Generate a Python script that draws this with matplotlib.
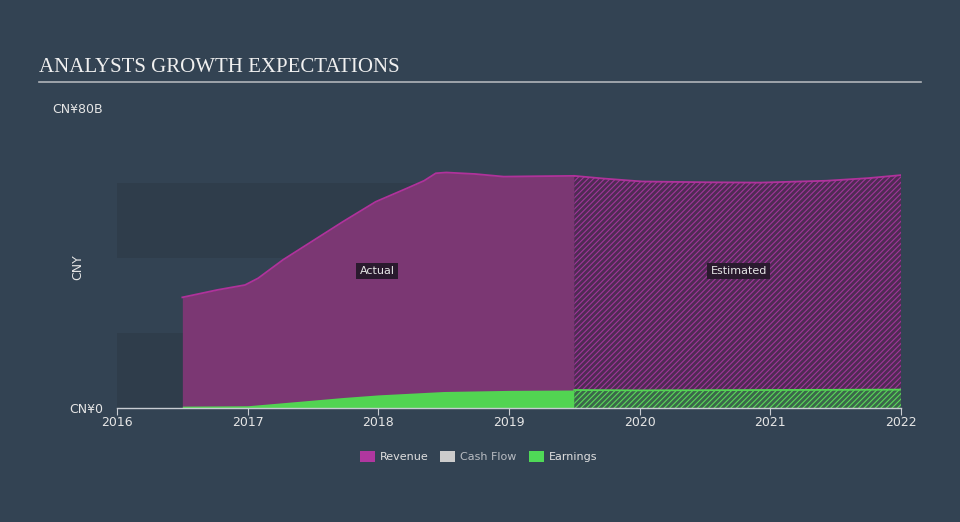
import matplotlib
matplotlib.use("Agg")
import matplotlib.pyplot as plt

# values (CNY billions, fractional years)
rev_actual_t = [2016.5, 2016.77, 2016.98, 2017.08, 2017.27, 2017.5, 2017.73, 2017.98, 2018.22, 2018.35,
                2018.44, 2018.52, 2018.74, 2018.96, 2019.2, 2019.5]
rev_actual_v = [29.5, 31.5, 32.8, 34.6, 39.5, 44.6, 49.7, 55.0, 58.6, 60.6,
                62.6, 62.8, 62.4, 61.7, 61.8, 61.9]
rev_est_t = [2019.5, 2019.72, 2020.02, 2020.5, 2020.92, 2021.43, 2021.75, 2022.0]
rev_est_v = [61.9, 61.2, 60.4, 60.2, 60.1, 60.6, 61.3, 62.1]

earn_actual_t = [2016.5, 2017.0, 2017.4, 2017.73, 2018.0, 2018.5, 2019.0, 2019.5]
earn_actual_v = [0.5, 0.6, 1.8, 2.8, 3.5, 4.4, 4.7, 4.8]
earn_est_t = [2019.5, 2020.0, 2021.0, 2022.0]
earn_est_v = [4.8, 4.7, 4.8, 4.9]

years = [2016, 2017, 2018, 2019, 2020, 2021, 2022]
legend_names = ["Revenue", "Cash Flow", "Earnings"]
legend_colors = ["#b0379f", "#cccccc", "#4fd957"]

bg = "#334353"
plt.rcParams["hatch.linewidth"] = 0.8

fig = plt.figure(figsize=(9.6, 5.22), dpi=100)
fig.patch.set_facecolor(bg)
ax = fig.add_axes([117 / 960, (522 - 408) / 522, 784 / 960, 300 / 522])
ax.set_facecolor(bg)
ax.set_xlim(2016, 2022)
ax.set_ylim(0, 80)

# subtle background bands
for lo, hi in [(0, 20), (40, 60)]:
    ax.fill_between([2016, 2022], lo, hi, color="#2f3d4b", lw=0, zorder=0)

# revenue
ax.fill_between(rev_actual_t, 0, rev_actual_v, color="#7b3773", lw=0, zorder=1)
ax.fill_between(rev_est_t, 0, rev_est_v, facecolor="#4f2b54", edgecolor="#a0369a",
                hatch="//////", lw=0, zorder=1)
ax.plot(rev_actual_t, rev_actual_v, color="#b0329b", lw=1.3, zorder=3)
ax.plot(rev_est_t, rev_est_v, color="#b0329b", lw=1.3, zorder=3)

# earnings
ax.fill_between(earn_actual_t, 0, earn_actual_v, color="#52d452", lw=0, zorder=2)
ax.fill_between(earn_est_t, 0, earn_est_v, facecolor="#3b674a", edgecolor="#5ad85a",
                hatch="//////", lw=0, zorder=2)
ax.plot(earn_est_t, earn_est_v, color="#52d452", lw=1.3, zorder=3)

for s in ["top", "right", "left"]:
    ax.spines[s].set_visible(False)
ax.spines["bottom"].set_color("#c8ccd2")
ax.spines["bottom"].set_linewidth(1.0)
ax.set_xticks(years)
ax.set_xticklabels([str(y) for y in years])
ax.tick_params(axis="x", colors="#c8ccd2", labelcolor="#e6e6e6", labelsize=9, length=5, pad=1)
ax.set_yticks([0, 80])
ax.set_yticklabels(["CN¥0", "CN¥80B"])
ax.tick_params(axis="y", length=0, labelcolor="#e6e6e6", labelsize=9, pad=10)
ax.text(-0.05, 0.47, "CNY", transform=ax.transAxes, rotation=90, color="#e6e6e6",
        fontsize=9, ha="center", va="center")

box = dict(boxstyle="square,pad=0.3", facecolor="#2a1a2e", edgecolor="none")
ax.text(2017.99, 36.5, "Actual", color="#e6e6e6", fontsize=8, ha="center", va="center", bbox=box, zorder=5)
ax.text(2020.76, 36.5, "Estimated", color="#e6e6e6", fontsize=8, ha="center", va="center", bbox=box, zorder=5)

# title
fig.text(39 / 960, 1 - 67 / 522, "ANALYSTS GROWTH EXPECTATIONS", family="Liberation Serif",
         fontsize=15, color="#f0f0f0", va="center", ha="left")
fig.add_artist(plt.Line2D([39 / 960, 921 / 960], [1 - 82 / 522] * 2, color="#b0b4ba", lw=1.2))

# legend
lx = [360, 440, 529]
for x, name, c in zip(lx, legend_names, legend_colors):
    fig.patches.append(plt.Rectangle((x / 960, 1 - 462 / 522), 15 / 960, 11 / 522,
                                     transform=fig.transFigure, facecolor=c, edgecolor="none"))
    fig.text((x + 20) / 960, 1 - 456.5 / 522, name, fontsize=8,
             color="#b8bcc2" if name == "Cash Flow" else "#e0e0e0", va="center", ha="left")

fig.savefig("out.png", dpi=100, facecolor=bg)
